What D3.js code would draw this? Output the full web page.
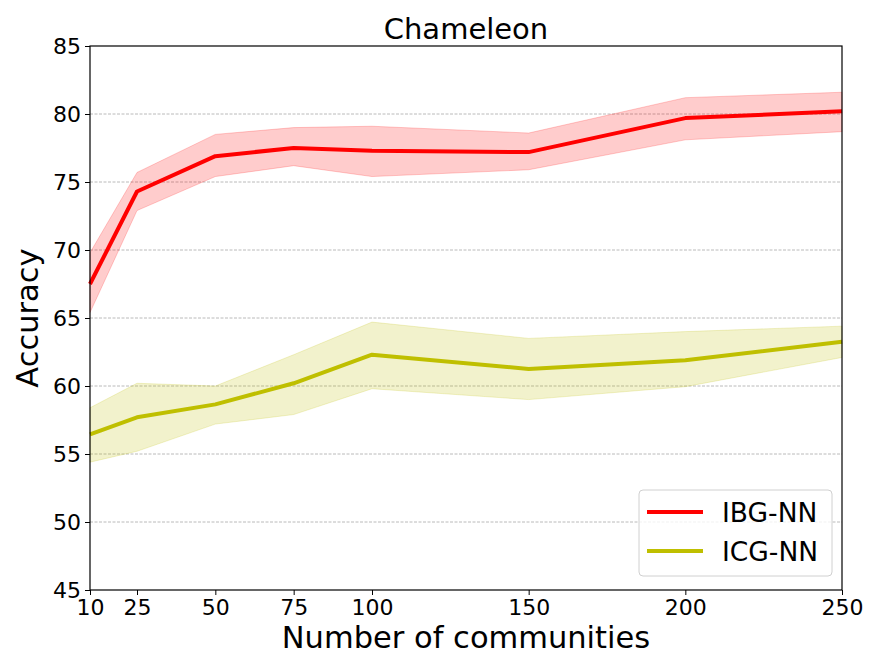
<!DOCTYPE html>
<html><head><meta charset="utf-8">
<script src="https://cdn.jsdelivr.net/npm/d3@7"></script>
<style>body{margin:0;background:#fff;} text{font-family:"DejaVu Sans",sans-serif;}</style>
</head><body><svg id="c" width="880" height="670"></svg>
<script>
const xTicks = [10, 25, 50, 75, 100, 150, 200, 250];
const yTicks = [45, 50, 55, 60, 65, 70, 75, 80, 85];
const ibgMean  = [67.5, 74.3, 76.9, 77.5, 77.3, 77.2, 79.7, 80.2];
const ibgUpper = [69.8, 75.7, 78.5, 79.0, 79.1, 78.6, 81.2, 81.6];
const ibgLower = [65.4, 72.9, 75.4, 76.2, 75.4, 75.9, 78.1, 78.7];
const icgMean  = [56.45, 57.7, 58.65, 60.2, 62.3, 61.25, 61.9, 63.25];
const icgUpper = [58.4, 60.2, 60.0, 62.3, 64.7, 63.5, 64.0, 64.4];
const icgLower = [54.4, 55.2, 57.2, 57.9, 59.8, 59.0, 59.95, 62.1];
const seriesNames = ["IBG-NN", "ICG-NN"];

const svg = d3.select("#c");
const L = 90, R = 842, T = 46, B = 590;
const x = d3.scaleLinear().domain([10, 250]).range([L, R]);
const y = d3.scaleLinear().domain([45, 85]).range([B, T]);

// grid
svg.append("g").selectAll("line").data(yTicks.slice(1, -1)).join("line")
  .attr("x1", L).attr("x2", R).attr("y1", d => y(d)).attr("y2", d => y(d))
  .attr("stroke", "#a8a8a8").attr("stroke-width", 0.8).attr("stroke-dasharray", "3,1.5");

function band(mean, up, lo, color) {
  const area = d3.area().x((d, i) => x(xTicks[i])).y0((d, i) => y(lo[i])).y1((d, i) => y(up[i]));
  svg.append("path").datum(mean).attr("d", area).attr("fill", color).attr("fill-opacity", 0.2)
    .attr("stroke", color).attr("stroke-opacity", 0.2).attr("stroke-width", 1);
  const line = d3.line().x((d, i) => x(xTicks[i])).y(d => y(d));
  svg.append("path").datum(mean).attr("d", line).attr("fill", "none")
    .attr("stroke", color).attr("stroke-width", 4).attr("stroke-linejoin", "round");
}
band(ibgMean, ibgUpper, ibgLower, "#ff0000");
band(icgMean, icgUpper, icgLower, "#bfbf00");

// axes
const xa = svg.append("g").attr("transform", `translate(0,${B})`)
  .call(d3.axisBottom(x).tickValues(xTicks).tickSize(5).tickPadding(4).tickSizeOuter(0));
const ya = svg.append("g").attr("transform", `translate(${L},0)`)
  .call(d3.axisLeft(y).tickValues(yTicks).tickSize(5).tickPadding(4).tickSizeOuter(0));
[xa, ya].forEach(a => {
  a.selectAll("text").attr("font-size", 22).attr("fill", "#000").attr("font-family", "DejaVu Sans");
  a.select(".domain").remove();
  a.selectAll(".tick line").attr("stroke", "#000").attr("stroke-width", 1);
});
xa.selectAll("text").attr("dy", "0.72em");
svg.append("rect").attr("x", L).attr("y", T).attr("width", R - L).attr("height", B - T)
  .attr("fill", "none").attr("stroke", "#000").attr("stroke-width", 1.2);

svg.append("text").attr("x", (L + R) / 2).attr("y", 39).attr("text-anchor", "middle")
  .attr("font-size", 29).text("Chameleon");
svg.append("text").attr("x", (L + R) / 2).attr("y", 648).attr("text-anchor", "middle")
  .attr("font-size", 30.5).text("Number of communities");
svg.append("text").attr("transform", `translate(38,${(T + B) / 2}) rotate(-90)`).attr("text-anchor", "middle")
  .attr("font-size", 30.5).text("Accuracy");

// legend
const lg = svg.append("g");
lg.append("rect").attr("x", 639).attr("y", 490).attr("width", 193).attr("height", 86).attr("rx", 4)
  .attr("fill", "#fff").attr("fill-opacity", 0.8).attr("stroke", "#d0d0d0");
const colors = ["#ff0000", "#bfbf00"];
seriesNames.forEach((n, i) => {
  const cy = 512 + i * 39;
  lg.append("line").attr("x1", 647).attr("x2", 703).attr("y1", cy).attr("y2", cy)
    .attr("stroke", colors[i]).attr("stroke-width", 4);
  lg.append("text").attr("x", 722).attr("y", cy).attr("dy", "0.36em").attr("font-size", 26.5).text(n);
});
</script></body></html>
